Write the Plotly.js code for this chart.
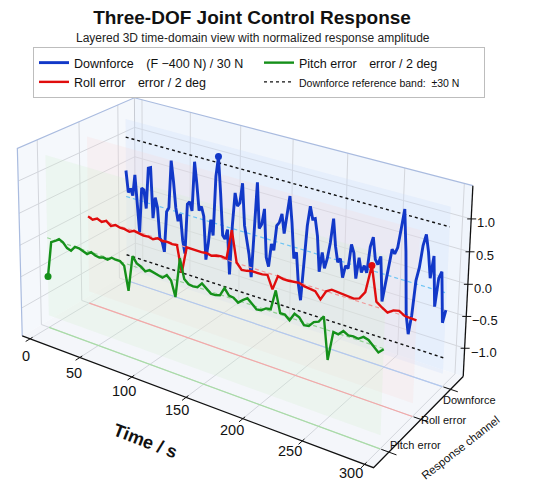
<!DOCTYPE html>
<html><head><meta charset="utf-8">
<script src="https://cdn.plot.ly/plotly-3.0.1.min.js"></script>
<style>html,body{margin:0;padding:0;background:#fff;}#chart{width:550px;height:498px;}</style>
</head><body><div id="chart"></div>
<script>
// ---------------- data ----------------
const channels = ['Pitch error', 'Roll error', 'Downforce'];
const timeTicks = [0, 50, 100, 150, 200, 250, 300];
const zTicks = [-1.0, -0.5, 0.0, 0.5, 1.0];
const zTickText = ['\u22121.0', '\u22120.5', '0.0', '0.5', '1.0'];
const tEnd = 300;
const refBand = [-1, 1];

// Downforce (F - 400 N) / 30 N
const downforce = [0.44,0.08,0.16,0.05,0.41,-0.04,-0.54,0.22,0.20,-0.10,0.59,0.61,-0.23,0.13,-0.03,-0.53,-0.58,-0.74,-0.05,0.03,
0.82,0.49,0.06,-0.15,-0.02,-0.45,-0.66,0.18,0.23,0.09,0.91,0.56,0.13,0.21,0.06,-0.65,-0.36,0.04,-0.21,0.77,
1.10,0.52,-0.16,-0.21,-0.04,-0.77,0.05,0.59,0.39,0.45,0.78,0.11,-0.15,-0.34,-0.70,0.01,0.86,0.13,0.21,0.47,
-0.30,-0.44,-0.06,-0.15,0.26,0.32,0.47,0.17,0.46,0.79,0.38,-0.18,-0.07,-0.57,-0.82,-0.24,0.40,0.72,0.53,0.55,
0.29,-0.27,0.05,-0.19,-0.02,0.24,0.63,0.21,-0.03,0.04,-0.25,-0.05,-0.08,0.31,0.19,-0.20,0.14,-0.08,0.04,-0.06,
0.36,0.52,0.19,0.12,0.26,-0.43,-0.12,0.14,0.42,0.36,0.47,0.77,1.08,0.45,-0.52,-0.81,-0.50,0.05,0.26,0.61,
0.79,0.54,0.15,0.50,-0.26,0.19,0.30,-0.47,-0.26];

// Roll error / 2 deg
const roll = [0,-0.03,0.01,-0.02,0.02,-0.04,0,-0.02,-0.02,-0.04,0,-0.02,-0.03,-0.02,-0.04,0,-0.02,-0.01,-0.02,-0.01,
-0.43,0,0,-0.01,0,0.01,-0.01,0.02,0.03,0.02,0.49,0.01,-0.08,-0.07,-0.05,-0.05,-0.05,-0.03,-0.23,0,
-0.02,-0.02,-0.01,0,-0.03,-0.04,-0.05,-0.15,0,0.05,0.04,0.03,0.03,0.02,0.05,0.17,0.59,0.08,0.02,-0.03,
0.03,0.05,0,0,-0.01];

// Pitch error / 2 deg
const pitch = [-0.62,-0.05,-0.01,0.04,0.01,-0.06,-0.08,0,0,-0.03,-0.05,0,-0.03,-0.04,-0.02,-0.03,0.02,0.01,0.01,-0.04,
-0.41,0.15,0.06,0.03,-0.02,0.02,0,-0.01,-0.03,0.03,-0.03,-0.26,0.35,0.06,0,-0.01,0,0.08,0.03,-0.03,
-0.03,-0.01,0.12,0.03,0.02,-0.03,0.03,0.08,0.02,-0.04,-0.03,0.02,0.03,0.33,0.02,0.02,-0.04,0.08,0.05,-0.04,
-0.03,0.05,0.08,0.18,-0.43,0,-0.01,0.06,0.02,0.03,0.02,0.07,0.05,-0.01,-0.08,-0.01];

// ---------------- view (3D box and camera) ----------------
const X0 = -8, X1 = 307, Y0 = -0.45, Y1 = 2.45, ZB = -1.45, ZT = 1.5;
// camera calibration anchors: [t, channel, z, screen x, screen y, weight]
const anchors = [
  [X0, Y0, ZB, 23, 339, 1], [X1, Y0, ZB, 357, 460, 1], [X1, Y1, ZB, 461, 380, 1], [X1, Y1, ZT, 467, 184, 1],
  [X0, Y1, ZT, 137, 100, 1], [X0, Y0, ZT, 15, 152, 1],
  [0, 2, 1, 125, 137, 3], [0, 2, -1, 127, 255, 3], [300, 2, 1, 447, 225, 3], [300, 2, -1, 445, 358, 3],
  [0, 1, 0, 87, 213, 3], [300, 1, 0, 423, 323, 3], [0, 0, 0, 48, 238, 3], [300, 0, 0, 387, 349, 3]
];
const S = 500;
function norm(t, c, z) { return [(t - 150) / 150, c - 1, z]; }
function solveCamera(pts) {
  const A = [], b = [], w = [];
  pts.forEach(([t, c, z, u, v, wt]) => {
    const [X, Y, Z] = norm(t, c, z); u /= S; v /= S;
    A.push([X, Y, Z, 1, 0, 0, 0, 0, -u * X, -u * Y, -u * Z]); b.push(u); w.push(wt);
    A.push([0, 0, 0, 0, X, Y, Z, 1, -v * X, -v * Y, -v * Z]); b.push(v); w.push(wt);
  });
  const n = 11, M = [...Array(n)].map(() => Array(n + 1).fill(0));
  for (let r = 0; r < A.length; r++) for (let i = 0; i < n; i++) {
    for (let j = 0; j < n; j++) M[i][j] += w[r] * A[r][i] * A[r][j];
    M[i][n] += w[r] * A[r][i] * b[r];
  }
  for (let i = 0; i < n; i++) {
    let p = i; for (let k = i + 1; k < n; k++) if (Math.abs(M[k][i]) > Math.abs(M[p][i])) p = k;
    [M[i], M[p]] = [M[p], M[i]];
    for (let k = i + 1; k < n; k++) { const f = M[k][i] / M[i][i]; for (let j = i; j <= n; j++) M[k][j] -= f * M[i][j]; }
  }
  const x = Array(n).fill(0);
  for (let i = n - 1; i >= 0; i--) { let s = M[i][n]; for (let j = i + 1; j < n; j++) s -= M[i][j] * x[j]; x[i] = s / M[i][i]; }
  return x;
}
const P = solveCamera(anchors);
function proj(t, c, z) {
  const [X, Y, Z] = norm(t, c, z);
  const d = P[8] * X + P[9] * Y + P[10] * Z + 1;
  return [S * (P[0] * X + P[1] * Y + P[2] * Z + P[3]) / d, S * (P[4] * X + P[5] * Y + P[6] * Z + P[7]) / d];
}

// ---------------- helpers ----------------
const traces = [];
function segs(list) {
  const x = [], y = [];
  list.forEach(pl => { pl.forEach(p => { const q = proj(p[0], p[1], p[2]); x.push(q[0]); y.push(q[1]); }); x.push(null); y.push(null); });
  return {x, y};
}
function addLines(list, line, extra) {
  traces.push(Object.assign({type: 'scatter', mode: 'lines', line: line, showlegend: false, hoverinfo: 'skip'}, segs(list), extra || {}));
}
function addPoly(pts, fill) {
  const s = segs([pts.concat([pts[0]])]);
  traces.push({type: 'scatter', mode: 'lines', x: s.x, y: s.y, fill: 'toself', fillcolor: fill, line: {width: 0}, showlegend: false, hoverinfo: 'skip'});
}
function timeAxis(n) { const a = []; for (let i = 0; i < n; i++) a.push(i * tEnd / (n - 1)); return a; }
function argMaxAbs(v) { let k = 0; v.forEach((x, i) => { if (Math.abs(x) > Math.abs(v[k])) k = i; }); return k; }

// ---------------- panes & grid ----------------
addPoly([[X0, Y0, ZB], [X1, Y0, ZB], [X1, Y1, ZB], [X0, Y1, ZB]], 'rgb(244,246,250)');
addPoly([[X0, Y1, ZB], [X1, Y1, ZB], [X1, Y1, ZT], [X0, Y1, ZT]], 'rgb(240,245,252)');
addPoly([[X0, Y0, ZB], [X0, Y1, ZB], [X0, Y1, ZT], [X0, Y0, ZT]], 'rgb(245,248,252)');
const grid = [];
timeTicks.forEach(t => { grid.push([[t, Y0, ZB], [t, Y1, ZB]]); grid.push([[t, Y1, ZB], [t, Y1, ZT]]); });
[0, 1, 2].forEach(c => { grid.push([[X0, c, ZB], [X1, c, ZB]]); grid.push([[X0, c, ZB], [X0, c, ZT]]); });
zTicks.forEach(z => { grid.push([[X0, Y1, z], [X1, Y1, z]]); grid.push([[X0, Y0, z], [X0, Y1, z]]); });
addLines(grid, {color: '#d3d6dc', width: 1});
addLines([[[X0, Y0, ZB], [X0, Y0, ZT], [X0, Y1, ZT], [X1, Y1, ZT]]], {color: '#a9bbdf', width: 1.2});
addLines([[[X0, Y1, ZB], [X0, Y1, ZT]], [[X1, Y0, ZB], [X1, Y1, ZB]]], {color: '#c8ccd4', width: 1});

// ---------------- channel layers ----------------
const series = [downforce, roll, pitch];
const yPos = [2, 1, 0];
const names = ['Downforce\u2003(F \u2212400 N) / 30 N', 'Roll error\u2003error / 2 deg', 'Pitch error\u2003error / 2 deg'];
const ranks = [1, 3, 2];
const colors = ['#1238c8', '#e00d0d', '#15901a'];
const zeroCol = ['#6cc4f4', '#f09a9a', '#93d293'];
const floorCol = ['#b2c8ef', '#f4a8a8', '#a9dca6'];
const paneCol = ['rgba(205,222,250,0.28)', 'rgba(250,214,214,0.22)', 'rgba(212,240,210,0.26)'];

series.forEach((s, i) => addPoly([[0, yPos[i], -1.25], [tEnd, yPos[i], -1.25], [tEnd, yPos[i], 1.3], [0, yPos[i], 1.3]], paneCol[i]));
series.forEach((s, i) => addLines([[[0, yPos[i], ZB], [tEnd, yPos[i], ZB]]], {color: floorCol[i], width: 1.2}));

series.forEach((s, i) => {
  const c = yPos[i];
  addLines([[[0, c, 0], [tEnd, c, 0]]], {color: zeroCol[i], width: 1.2, dash: '4px,3px'});
  if (i === 0) {
    addLines(refBand.map(b => [[0, 2, b], [tEnd, 2, b]]), {color: '#111', width: 1.4, dash: 'dot'},
      {name: '<span style="font-size:10.5px">Downforce reference band:  \u00b130 N</span>', showlegend: true, legendrank: 4});
  }
  const t = timeAxis(s.length);
  addLines([t.map((tt, k) => [tt, c, s[k]])], {color: colors[i], width: i === 0 ? 2.9 : 2.4},
    {name: names[i], showlegend: true, legendrank: ranks[i]});
  const k = argMaxAbs(s);
  const q = proj(t[k], c, s[k]);
  traces.push({type: 'scatter', mode: 'markers', x: [q[0]], y: [q[1]], marker: {color: colors[i], size: 7}, showlegend: false, hoverinfo: 'skip'});
});

// ---------------- axes (black) ----------------
addLines([[[X0, Y0, ZB], [X1, Y0, ZB], [X1, Y1, ZB]], [[X1, Y1, ZB], [X1, Y1, ZT]]], {color: '#111', width: 1.3});
const tickSegs = [];
timeTicks.forEach(t => tickSegs.push([[t, Y0 + 0.06, ZB], [t, Y0 - 0.1, ZB]]));
[0, 1, 2].forEach(c => tickSegs.push([[X1 - 6, c, ZB], [X1 + 6, c, ZB]]));
addLines(tickSegs, {color: '#111', width: 1});
const zt = {x: [], y: []};
zTicks.forEach(z => { const q = proj(X1, Y1, z); zt.x.push(q[0] - 4, q[0] + 5, null); zt.y.push(q[1], q[1], null); });
traces.push({type: 'scatter', mode: 'lines', x: zt.x, y: zt.y, line: {color: '#111', width: 1}, showlegend: false, hoverinfo: 'skip'});

// ---------------- text ----------------
const font = 'Liberation Sans, Arial, sans-serif';
const ann = [];
timeTicks.forEach(t => {
  const q = proj(t, Y0, ZB);
  ann.push({x: q[0] - 4 - 10 * t / tEnd, y: q[1] + 17 - 8 * t / tEnd, text: String(t), showarrow: false, xanchor: 'center', yanchor: 'middle', font: {size: 14.5, family: font, color: '#111'}});
});
zTicks.forEach((z, i) => {
  const q = proj(X1, Y1, z);
  ann.push({x: q[0] + 4, y: q[1] + 4, text: zTickText[i], showarrow: false, xanchor: 'left', yanchor: 'middle', font: {size: 13, family: font, color: '#111'}});
});
const chOff = [[26.5, -7], [23, 1], [19, 11]];
channels.forEach((name, c) => {
  const q = proj(X1, c, ZB);
  ann.push({x: q[0] + chOff[c][0], y: q[1] + chOff[c][1], text: name, showarrow: false, xanchor: 'center', yanchor: 'middle', font: {size: 11, family: font, color: '#111'}});
});
ann.push({x: 145, y: 441, text: '<b>Time / s</b>', textangle: 21, showarrow: false, xanchor: 'center', yanchor: 'middle', font: {size: 18, family: font, color: '#111'}});
ann.push({x: 460, y: 448, text: 'Response channel', textangle: -38, showarrow: false, xanchor: 'center', yanchor: 'middle', font: {size: 11.5, family: font, color: '#111'}});
ann.push({x: 253, y: 38, text: 'Layered 3D time-domain view with normalized response amplitude', showarrow: false, xanchor: 'center', yanchor: 'middle', font: {size: 12, family: font, color: '#222'}});
ann.forEach(a => { a.xref = 'x'; a.yref = 'y'; });

const layout = {
  width: 550, height: 498, margin: {l: 0, r: 0, t: 0, b: 0, autoexpand: false}, paper_bgcolor: '#fff', plot_bgcolor: '#fff',
  font: {family: font, color: '#111'},
  title: {text: '<b>Three-DOF Joint Control Response</b>', x: 252 / 550, xref: 'container', xanchor: 'center',
    y: 1 - 17 / 498, yref: 'container', yanchor: 'middle', font: {size: 19, family: font, color: '#111'}},
  xaxis: {range: [0, 550], visible: false, fixedrange: true},
  yaxis: {range: [498, 0], visible: false, fixedrange: true},
  annotations: ann,
  legend: {orientation: 'h', x: 33 / 550, xanchor: 'left', xref: 'container', y: 1 - 47 / 498, yanchor: 'top', yref: 'container',
    bgcolor: '#fff', bordercolor: '#bdbdbd', borderwidth: 1, entrywidth: 180, font: {size: 12.5, family: font, color: '#111'}},
  showlegend: true
};
Plotly.newPlot('chart', traces, layout, {displayModeBar: false, staticPlot: true});
</script></body></html>
